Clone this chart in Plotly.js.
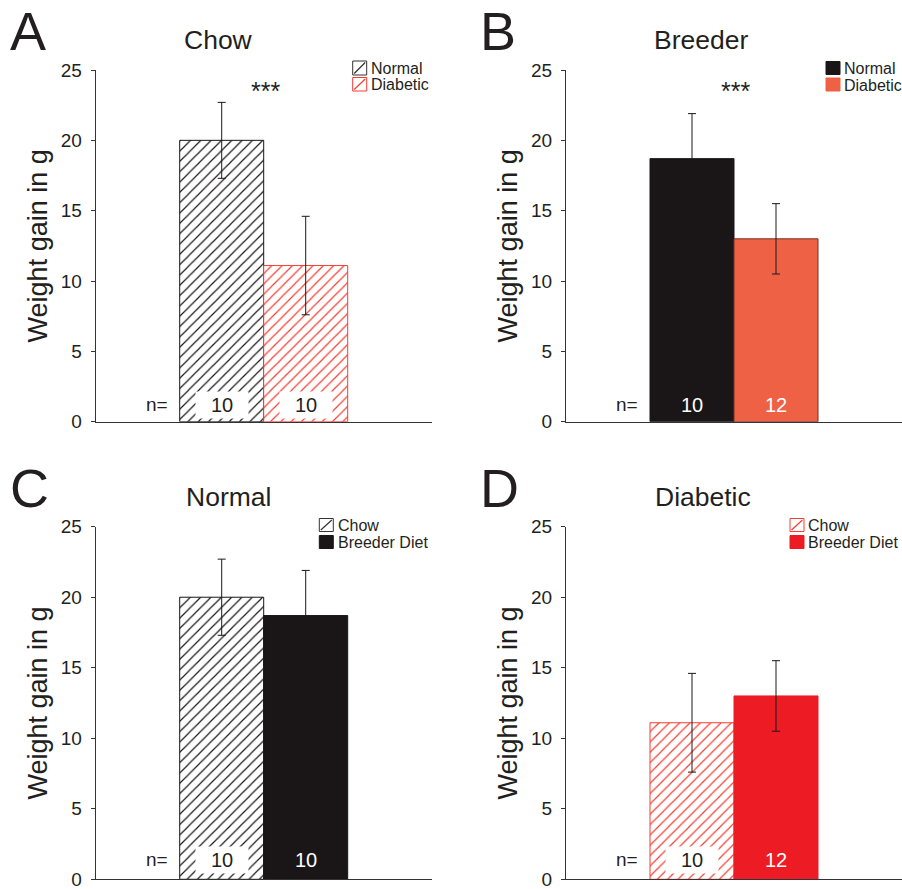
<!DOCTYPE html>
<html>
<head>
<meta charset="utf-8">
<script src="https://cdn.plot.ly/plotly-3.0.1.min.js"></script>
<style>html,body{margin:0;padding:0;background:#fff;}#chart{width:902px;height:889px;}</style>
</head>
<body>
<div id="chart"></div>
<script>
// ---- data ----
const groupsAB = ['Normal', 'Diabetic'];
const dietsCD = ['Chow', 'Breeder Diet'];
const chowMeans = [20.0, 11.1];
const chowSem = [2.7, 3.5];
const chowN = [10, 10];
const breederMeans = [18.7, 13.0];
const breederSem = [3.2, 2.5];
const breederN = [10, 12];
const normalMeans = [20.0, 18.7];
const normalSem = [2.7, 3.2];
const normalN = [10, 10];
const diabeticMeans = [11.1, 13.0];
const diabeticSem = [3.5, 2.5];
const diabeticN = [10, 12];
const yTicks = [0, 5, 10, 15, 20, 25];
const panelTitles = ['Chow', 'Breeder', 'Normal', 'Diabetic'];
const panelLetters = ['A', 'B', 'C', 'D'];
const sigLabel = '***';

// ---- styling ----
const W = 902, H = 889;
const FONT = 'Arial, "Liberation Sans", Helvetica, sans-serif';
const TXT = '#231f20';
const AX = '#333333';
const ERR = '#1c1819';
const BLACK = '#1a1617';
const ORANGE = '#ef6145';
const RED = '#ed1c24';
const HRED = '#f53d32';
const px = x => x / W;
const py = y => 1 - y / H;

// one bar per trace so that each can carry its own fill / hatch
function bar(xa, ya, idx, cat, mean, sem, style) {
  const marker = {color: style.fill, line: {color: style.line, width: 1}};
  if (style.hatch) {
    marker.pattern = {shape: '/', fgcolor: style.hatch, bgcolor: 'white', size: 7.3, solidity: 0.16};
  }
  return {
    type: 'bar', xaxis: xa, yaxis: ya,
    x: [idx], y: [mean], width: 1, name: cat,
    marker: marker,
    error_y: {type: 'data', array: [sem], visible: true, color: ERR, thickness: 1, width: 4},
    showlegend: false, hoverinfo: 'y'
  };
}
const sHatchBlack = {fill: 'white', line: BLACK, hatch: BLACK};
const sHatchRed = {fill: 'white', line: HRED, hatch: HRED};
const sBlack = {fill: BLACK, line: BLACK};
const sOrange = {fill: ORANGE, line: '#7a2e20'};
const sRed = {fill: RED, line: RED};

const data = [
  bar('x', 'y', 0, groupsAB[0], chowMeans[0], chowSem[0], sHatchBlack),
  bar('x', 'y', 1, groupsAB[1], chowMeans[1], chowSem[1], sHatchRed),
  bar('x2', 'y2', 0, groupsAB[0], breederMeans[0], breederSem[0], sBlack),
  bar('x2', 'y2', 1, groupsAB[1], breederMeans[1], breederSem[1], sOrange),
  bar('x3', 'y3', 0, dietsCD[0], normalMeans[0], normalSem[0], sHatchBlack),
  bar('x3', 'y3', 1, dietsCD[1], normalMeans[1], normalSem[1], sBlack),
  bar('x4', 'y4', 0, dietsCD[0], diabeticMeans[0], diabeticSem[0], sHatchRed),
  bar('x4', 'y4', 1, dietsCD[1], diabeticMeans[1], diabeticSem[1], sRed)
];

const xLeft = [px(95.7), px(431.7)];
const xRight = [px(566), px(902)];
const yTop = [py(421.7), py(70)];
const yBot = [py(879.3), py(526.7)];

function xAxis(dom, anchor) {
  return {domain: dom, anchor: anchor, range: [-1.5, 2.5], showline: true, linecolor: AX, linewidth: 1,
    showticklabels: false, ticks: '', showgrid: false, zeroline: false, fixedrange: true};
}
function yAxis(dom, anchor) {
  return {domain: dom, anchor: anchor, range: [0, 25], tickvals: yTicks, ticks: 'outside', ticklen: 4,
    tickwidth: 1, tickcolor: AX, ticklabelstandoff: 5, ticklabeloverflow: 'allow',
    showline: true, linecolor: AX, linewidth: 1,
    showgrid: false, zeroline: false, fixedrange: true,
    tickfont: {family: FONT, size: 19, color: TXT},
    title: {text: 'Weight gain in g', font: {family: FONT, size: 27, color: TXT}, standoff: 5}};
}

const annotations = [];
const letterPos = [[28.5, 31], [497.7, 31], [30, 487.5], [499.3, 487.5]];
const titlePos = [[218.3, 40], [701, 40], [228.3, 496.7], [702.7, 496.7]];
for (let i = 0; i < 4; i++) {
  annotations.push({xref: 'paper', yref: 'paper', x: px(letterPos[i][0]), y: py(letterPos[i][1]),
    text: panelLetters[i], showarrow: false, xanchor: 'center', yanchor: 'middle',
    font: {family: FONT, size: 54, color: TXT}});
  annotations.push({xref: 'paper', yref: 'paper', x: px(titlePos[i][0]), y: py(titlePos[i][1]),
    text: panelTitles[i], showarrow: false, xanchor: 'center', yanchor: 'middle',
    font: {family: FONT, size: 26.5, color: TXT}});
}
annotations.push({xref: 'x', yref: 'y', x: 0.52, y: 23.5, text: sigLabel, showarrow: false,
  font: {family: FONT, size: 25, color: TXT}});
annotations.push({xref: 'x2', yref: 'y2', x: 0.52, y: 23.5, text: sigLabel, showarrow: false,
  font: {family: FONT, size: 25, color: TXT}});

function nLabels(xa, ya, ns, yPos, hatched) {
  annotations.push({xref: xa, yref: ya, x: -0.77, y: yPos, text: 'n=', showarrow: false,
    font: {family: FONT, size: 19, color: TXT}});
  ns.forEach((n, i) => {
    const white = hatched[i];
    annotations.push({xref: xa, yref: ya, x: i, y: yPos, text: String(n), showarrow: false,
      bgcolor: white ? 'white' : 'rgba(0,0,0,0)', width: 50, height: 24,
      font: {family: FONT, size: 20, color: white ? TXT : 'white'}});
  });
}
nLabels('x', 'y', chowN, 1.22, [true, true]);
nLabels('x2', 'y2', breederN, 1.22, [false, false]);
nLabels('x3', 'y3', normalN, 1.37, [true, false]);
nLabels('x4', 'y4', diabeticN, 1.37, [true, false]);

const shapes = [];
function legendItem(x0, y0, y1, label, color, hatched, textX) {
  shapes.push({type: 'rect', xref: 'paper', yref: 'paper', x0: px(x0), x1: px(x0 + 14), y0: py(y1), y1: py(y0),
    line: {color: color, width: 1}, fillcolor: hatched ? 'white' : color, layer: 'above'});
  if (hatched) {
    shapes.push({type: 'line', xref: 'paper', yref: 'paper', x0: px(x0 + 1.5), x1: px(x0 + 12.5), y0: py(y1 - 1.5), y1: py(y0 + 1.5),
      line: {color: color, width: 1.2}, layer: 'above'});
  }
  annotations.push({xref: 'paper', yref: 'paper', x: px(textX), y: py((y0 + y1) / 2), text: label,
    showarrow: false, xanchor: 'left', yanchor: 'middle', height: 16,
    font: {family: FONT, size: 16, color: TXT}});
}
legendItem(352.7, 61, 75, groupsAB[0], '#333', true, 369);
legendItem(352.7, 77.5, 91, groupsAB[1], HRED, true, 369);
legendItem(826, 61.5, 74.5, groupsAB[0], BLACK, false, 842);
legendItem(826, 78, 91, groupsAB[1], ORANGE, false, 842);
legendItem(319.3, 518.5, 531.5, dietsCD[0], '#333', true, 335.5);
legendItem(319.3, 535.5, 548.5, dietsCD[1], BLACK, false, 335.5);
legendItem(790, 518.5, 531.5, dietsCD[0], HRED, true, 806);
legendItem(790, 535.5, 548.5, dietsCD[1], RED, false, 806);

const layout = {
  width: W, height: H, margin: {l: 0, r: 0, t: 0, b: 0},
  paper_bgcolor: 'white', plot_bgcolor: 'rgba(0,0,0,0)',
  font: {family: FONT, color: TXT},
  showlegend: false,
  xaxis: xAxis(xLeft, 'y'), yaxis: yAxis(yTop, 'x'),
  xaxis2: xAxis(xRight, 'y2'), yaxis2: yAxis(yTop, 'x2'),
  xaxis3: xAxis(xLeft, 'y3'), yaxis3: yAxis(yBot, 'x3'),
  xaxis4: xAxis(xRight, 'y4'), yaxis4: yAxis(yBot, 'x4'),
  annotations: annotations,
  shapes: shapes
};

Plotly.newPlot('chart', data, layout, {displayModeBar: false});
</script>
</body>
</html>
